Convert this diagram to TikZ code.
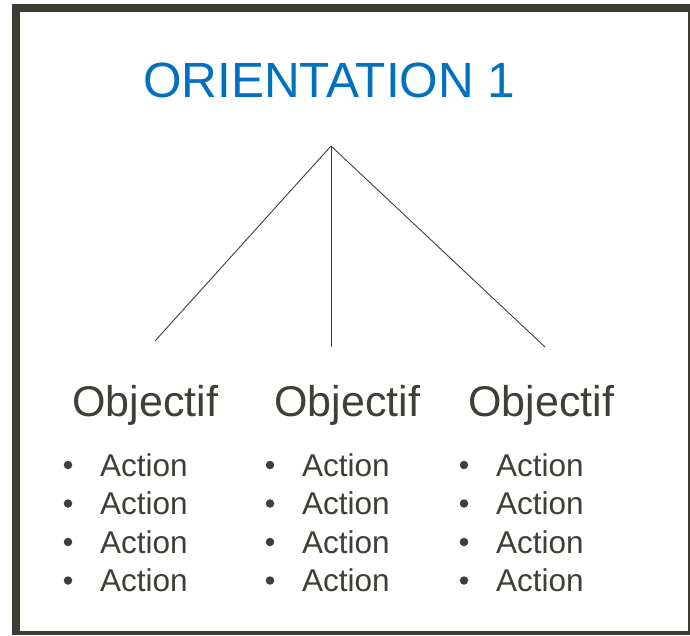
\documentclass[tikz,border=0pt]{standalone}
\usepackage{fontspec}
\setmainfont{Liberation Sans}
\definecolor{frame}{HTML}{3D3C34}
\definecolor{ink}{HTML}{3F3F38}
\definecolor{titleblue}{HTML}{0070C0}
\begin{document}
\begin{tikzpicture}[x=1pt,y=-1pt,
  titletext/.style={font=\fontsize{49.5}{49.5}\selectfont, text=titleblue, inner sep=0pt, anchor=base west},
  objtext/.style={font=\fontsize{43}{43}\selectfont, text=ink, inner sep=0pt, anchor=base west},
  acttext/.style={font=\fontsize{31.5}{31.5}\selectfont, text=ink, inner sep=0pt, anchor=base west},
  bul/.style={circle, fill=ink, inner sep=0pt, minimum size=8.5pt},
  branch/.style={draw=ink, line width=0.9pt}]
\useasboundingbox (0,0) rectangle (690,635);
\fill[frame] (12,4) rectangle (690,635);
\fill[white] (20,12) rectangle (688,631);
\node[titletext] (title) at (143,97) {ORIENTATION 1};
\coordinate (apex) at (331,146);
\coordinate (e1) at (155,341);
\coordinate (e2) at (331,347);
\coordinate (e3) at (545,347);
\draw[branch] (apex) -- (e1);
\draw[branch] (apex) -- (e2);
\draw[branch] (apex) -- (e3);
\foreach \c/\ox/\bx/\ax in {1/72/68/100, 2/274/270/302, 3/468/464/496} {
  \node[objtext] (obj\c) at (\ox,416) {Objectif};
  \foreach \r/\y in {1/476, 2/514.5, 3/553, 4/591.5} {
    \node[bul] (b\c\r) at (\bx,\y-11) {};
    \node[acttext] (a\c\r) at (\ax,\y) {Action};
  }
}
\end{tikzpicture}
\end{document}
